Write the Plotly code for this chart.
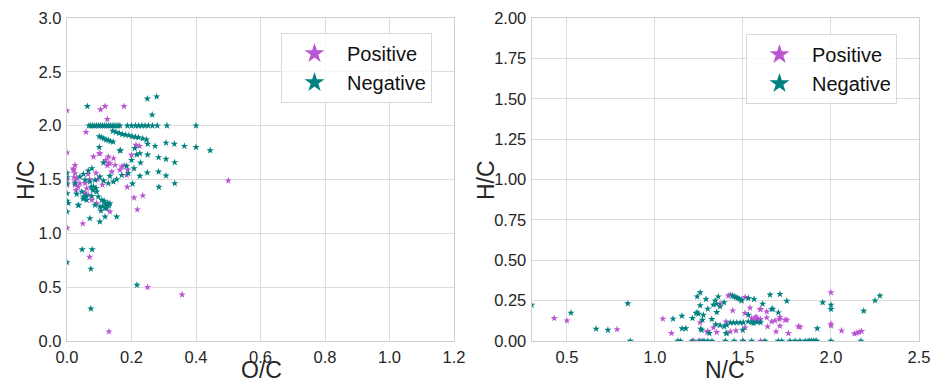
import plotly.graph_objects as go

# ---------------- Left panel: H/C vs O/C ----------------
oc_pos = [0, 0.104, 0.118, 0.177, 0.125, 0.059, 0, 0.214, 0.225, 0.10, 0.12, 0.128, 0.125, 0.177, 0.188, 0.50,
          0.049, 0, 0.07, 0.25, 0.357, 0.13, 0.208, 0.235, 0.218, 0.187,
          0.025, 0.02, 0.025, 0.03, 0.025, 0.035, 0.04, 0.056, 0.061, 0.056, 0.066, 0.077, 0.092, 0.118, 0.133,
          0.102, 0.128, 0.133, 0.149, 0.139, 0.164, 0.17, 0.185, 0.2, 0.082, 0.144,
          0.02, 0.022, 0.028, 0.025, 0.09, 0.095, 0.11, 0.07, 0.065, 0, 0]
hc_pos = [2.14, 2.15, 2.18, 2.18, 2.06, 1.94, 1.75, 1.82, 1.81, 1.74, 1.68, 1.65, 1.63, 1.63, 1.59, 1.49,
          1.09, 1.05, 0.78, 0.50, 0.43, 0.087, 1.33, 1.35, 1.22, 1.43,
          1.634, 1.588, 1.557, 1.511, 1.479, 1.433, 1.464, 1.464, 1.418, 1.377, 1.356, 1.309, 1.278, 1.232, 1.201,
          1.743, 1.711, 1.65, 1.634, 1.572, 1.588, 1.618, 1.541, 1.727, 1.711, 1.696,
          1.60, 1.52, 1.40, 1.45, 1.56, 1.50, 1.45, 1.50, 1.55, 1.50, 1.45]

oc_neg = [0, 0, 0, 0, 0, 0, 0, 0.004,
          0.063, 0.249, 0.278, 0.264,
          0.068, 0.074, 0.080, 0.086, 0.092, 0.098, 0.104, 0.110, 0.116, 0.122, 0.128, 0.134, 0.140, 0.146,
          0.152, 0.158, 0.164, 0.187, 0.200, 0.212, 0.222, 0.232, 0.242, 0.252, 0.265, 0.280, 0.310, 0.400,
          0.100, 0.107, 0.114, 0.121, 0.128, 0.135, 0.143,
          0.142, 0.152, 0.162, 0.172, 0.182, 0.192, 0.202, 0.212, 0.222, 0.235, 0.247,
          0.10, 0.166, 0.21, 0.25, 0.273, 0.307, 0.333, 0.364, 0.40, 0.444, 0.216, 0.25,
          0.113, 0.164, 0.226, 0.284, 0.307, 0.334, 0.2, 0.185, 0.228, 0.208, 0.19, 0.226, 0.249, 0.284, 0.307,
          0.334, 0.077, 0.066, 0.051, 0.04, 0.056, 0.071, 0.087, 0.102, 0.113, 0.128, 0.144, 0.133, 0.154, 0.17,
          0.082, 0.092, 0.077, 0.097, 0.108, 0.118, 0.128, 0.102, 0.087, 0.061, 0.051, 0.046, 0.03, 0.035,
          0.071, 0.102, 0.118, 0.154, 0.133, 0.123, 0.025,
          0.047, 0.078, 0.074, 0.074, 0.217, 0.036, 0.285, 0.203,
          0.11, 0.12, 0.125, 0.13, 0.115, 0.105, 0.055, 0.06, 0.05, 0.075, 0.08, 0.09]
hc_neg = [1.20, 1.30, 1.37, 1.46, 1.52, 1.56, 0.73, 1.28,
          2.18, 2.25, 2.27, 2.10,
          2.0, 2.0, 2.0, 2.0, 2.0, 2.0, 2.0, 2.0, 2.0, 2.0, 2.0, 2.0, 2.0, 2.0,
          2.0, 2.0, 2.0, 2.0, 2.0, 2.0, 2.0, 2.0, 2.0, 2.0, 2.0, 2.0, 2.0, 2.0,
          1.90, 1.89, 1.88, 1.87, 1.865, 1.855, 1.85,
          1.95, 1.94, 1.93, 1.92, 1.915, 1.91, 1.90, 1.895, 1.89, 1.88, 1.87,
          1.80, 1.77, 1.79, 1.83, 1.81, 1.84, 1.83, 1.81, 1.80, 1.77, 1.73, 1.73,
          1.656, 1.767, 1.743, 1.706, 1.69, 1.659, 1.68, 1.625, 1.656, 1.603, 1.557, 1.532, 1.563, 1.572, 1.535,
          1.464, 1.603, 1.581, 1.55, 1.525, 1.495, 1.479, 1.495, 1.525, 1.488, 1.464, 1.479, 1.532, 1.501, 1.541,
          1.433, 1.386, 1.346, 1.34, 1.309, 1.278, 1.272, 1.247, 1.263, 1.309, 1.34, 1.386, 1.365, 1.263,
          1.139, 1.108, 1.154, 1.154, 1.278, 1.232, 1.464,
          0.85, 0.85, 0.67, 0.30, 0.52, 1.26, 1.43, 1.46,
          1.25, 1.24, 1.28, 1.26, 1.30, 1.21, 1.33, 1.35, 1.32, 1.43, 1.40, 1.42]

# ---------------- Right panel: H/C vs N/C ----------------
nc_pos = [0.428, 0.5, 0.785, 1.045, 1.094, 1.257, 1.30, 1.298, 1.332, 1.351, 1.37, 1.404, 1.417, 1.428, 1.512,
          1.442, 1.54, 1.512, 1.597, 1.635, 1.574, 1.55, 1.56, 1.57, 1.58, 1.59, 1.6, 1.565, 1.585, 1.635, 1.663,
          1.707, 1.749, 1.71, 1.64, 1.688, 1.758, 1.824, 1.815, 1.428, 1.46, 1.512, 2.0, 2.0, 2.0, 2.06, 2.133,
          2.147, 2.16, 2.174, 1.739, 1.71, 1.682, 1.601, 1.25, 1.27, 1.22, 1.5, 1.6]
hc_pos_r = [0.141, 0.126, 0.072, 0.137, 0.048, 0.114, 0.06, 0.054, 0.083, 0.054, 0.23, 0.12, 0.28, 0.286, 0.271,
            0.188, 0.205, 0.172, 0.197, 0.182, 0.151, 0.14, 0.135, 0.13, 0.14, 0.13, 0.135, 0.125, 0.12, 0.145, 0.12,
            0.135, 0.13, 0.093, 0.089, 0.058, 0.048, 0.087, 0.09, 0.058, 0.064, 0.083, 0.30, 0.106, 0.095, 0.064, 0.045,
            0.05, 0.055, 0.06, 0.13, 0.147, 0.126, 0.197, 0, 0, 0, 0, 0]

nc_neg = [0.30, 0.523, 0.666, 0.733, 0.846, 0.86, 1.103, 1.153, 1.154, 1.175, 1.13, 1.213, 1.24, 1.257, 1.24,
          1.29, 1.30, 1.257, 1.26, 1.27,
          1.36, 1.342, 1.351, 1.37, 1.332, 1.234, 1.247, 1.275, 1.351, 1.323, 1.266, 1.37, 1.346, 1.393, 1.404, 1.309,
          1.144, 1.211, 1.256, 1.279, 1.30, 1.324, 1.55, 1.625, 1.70, 1.72, 1.767, 1.796, 1.824, 1.853, 1.87, 1.88,
          1.89, 1.90, 1.91, 1.919, 2.0, 2.17, 1.40, 1.45, 1.5,
          1.44, 1.45, 1.46, 1.47, 1.48, 1.49, 1.493,
          1.393, 1.531, 1.563, 1.612, 1.654, 1.71, 1.749, 1.663, 1.701, 1.531, 1.502, 1.484, 1.465, 1.446, 1.428,
          1.408, 1.499, 1.408, 1.922, 1.953, 2.0, 2.0, 2.186, 2.25, 2.278, 1.67, 1.53, 1.55, 1.56, 1.58, 1.6]
hc_neg_r = [0.224, 0.174, 0.075, 0.068, 0.232, 0, 0.137, 0.155, 0.077, 0.077, 0, 0.141, 0.176, 0.30, 0.275,
            0.259, 0.199, 0.22, 0.075, 0.13,
            0.275, 0.25, 0.23, 0.213, 0.224, 0.172, 0.168, 0.161, 0.178, 0.135, 0.068, 0.097, 0.103, 0.089, 0.048, 0.048,
            0, 0, 0, 0, 0, 0, 0, 0, 0, 0, 0, 0, 0, 0, 0, 0,
            0, 0, 0, 0, 0, 0, 0, 0, 0,
            0.28, 0.275, 0.27, 0.265, 0.26, 0.255, 0.25,
            0.238, 0.265, 0.259, 0.23, 0.286, 0.29, 0.248, 0.197, 0.176, 0.161, 0.114, 0.114, 0.114, 0.114, 0.114,
            0.099, 0.068, 0.048, 0.077, 0.238, 0.224, 0.197, 0.186, 0.25, 0.28, 0.199, 0.12, 0.115, 0.11, 0.118, 0.115]

series_names = ["Positive", "Negative"]
series_colors = ["#BA55D3", "#008080"]

left_ticks = [0.0, 0.2, 0.4, 0.6, 0.8, 1.0, 1.2]
left_yticks = [0.0, 0.5, 1.0, 1.5, 2.0, 2.5, 3.0]
right_ticks = [0.5, 1.0, 1.5, 2.0, 2.5]
right_yticks = [0.0, 0.25, 0.5, 0.75, 1.0, 1.25, 1.5, 1.75, 2.0]

fig = go.Figure()

MS = 5.5
for xs, ys, col, xa, ya in [(oc_pos, hc_pos, series_colors[0], "x", "y"),
                            (oc_neg, hc_neg, series_colors[1], "x", "y"),
                            (nc_pos, hc_pos_r, series_colors[0], "x2", "y2"),
                            (nc_neg, hc_neg_r, series_colors[1], "x2", "y2")]:
    fig.add_trace(go.Scatter(x=xs, y=ys, mode="markers", xaxis=xa, yaxis=ya, showlegend=False,
                             marker=dict(symbol="star", size=MS, color=col, line=dict(width=0))))

# legend entries (bigger symbols)
for lg, xa, ya in [("legend", "x", "y"), ("legend2", "x2", "y2")]:
    for name, col in zip(series_names, series_colors):
        fig.add_trace(go.Scatter(x=[None], y=[None], mode="markers", name=name, xaxis=xa, yaxis=ya,
                                 legend=lg, showlegend=True,
                                 marker=dict(symbol="star", size=15, color=col, line=dict(width=0))))

# The page body has an 8px margin; size the figure so it lands on the reference pixel grid.
OFF = 8
FW, FH = 941 - OFF, 385 - OFF


def px(x):
    return (x - OFF) / FW


def py(y):
    return 1 - (y - OFF) / FH


ydom = [py(341), py(18)]
grid = "#dcdcdc"
FONT = "Liberation Sans, Arial, sans-serif"
tickfont = dict(family=FONT, size=16.5, color="#262626")
titlefont = dict(family=FONT, size=23, color="#262626")

common = dict(showgrid=True, gridcolor=grid, gridwidth=1.3, showline=True, linecolor="#cfcfcf", linewidth=1.3,
              mirror=True, zeroline=False, ticks="", tickfont=tickfont, automargin=False, ticklabelstandoff=1)

legend_style = dict(xanchor="left", yanchor="top", bgcolor="rgba(255,255,255,0.8)",
                    bordercolor="#d9d9d9", borderwidth=1,
                    font=dict(family=FONT, size=20, color="#111111"),
                    itemwidth=55, tracegroupgap=0)

fig.update_layout(
    width=FW, height=FH,
    margin=dict(l=0, r=0, t=0, b=0),
    paper_bgcolor="white", plot_bgcolor="white",
    xaxis=dict(domain=[px(67), px(454)], range=[0, 1.2], tickvals=left_ticks, tickformat=".1f",
               anchor="y", **common),
    yaxis=dict(domain=ydom, range=[0, 3.0], tickvals=left_yticks, tickformat=".1f",
               anchor="x", **common),
    xaxis2=dict(domain=[px(531.7), px(919)], range=[0.3, 2.5], tickvals=right_ticks, tickformat=".1f",
                anchor="y2", **common),
    yaxis2=dict(domain=ydom, range=[0, 2.0], tickvals=right_yticks, tickformat=".2f",
                anchor="x2", **common),
    legend=dict(x=px(281), y=py(33), **legend_style),
    legend2=dict(x=px(746), y=py(34), **legend_style),
    annotations=[
        dict(text="O/C", x=px(262), y=py(370), xref="paper", yref="paper", showarrow=False,
             xanchor="center", yanchor="middle", font=titlefont),
        dict(text="N/C", x=px(725), y=py(370), xref="paper", yref="paper", showarrow=False,
             xanchor="center", yanchor="middle", font=titlefont),
        dict(text="H/C", x=px(26), y=py(180), xref="paper", yref="paper", showarrow=False, textangle=-90,
             xanchor="center", yanchor="middle", font=titlefont),
        dict(text="H/C", x=px(486), y=py(180), xref="paper", yref="paper", showarrow=False, textangle=-90,
             xanchor="center", yanchor="middle", font=titlefont),
    ],
)

fig.write_html("out.html")
